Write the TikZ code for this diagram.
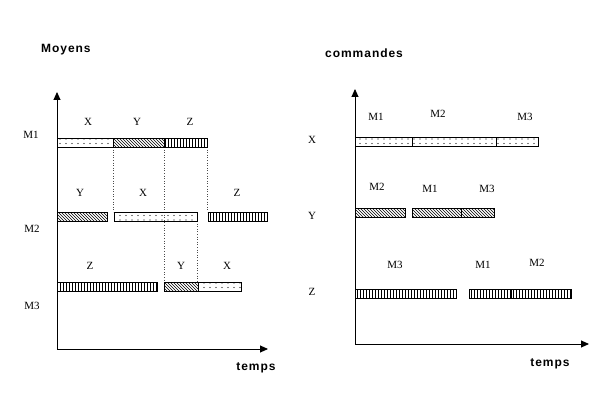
\documentclass[tikz,border=0pt]{standalone}
\usepackage{fontspec}
\setmainfont{Liberation Serif}
\newfontfamily\lbl[LetterSpace=8]{Liberation Sans}
\usetikzlibrary{patterns,arrows.meta}
\pgfdeclarepatternformonly{sparsedots}{\pgfqpoint{-1pt}{-1pt}}{\pgfqpoint{1pt}{1pt}}{\pgfqpoint{6pt}{4.5pt}}{%
  \pgfpathcircle{\pgfqpoint{0pt}{0pt}}{0.6pt}\pgfusepath{fill}}
\tikzset{
  lab/.style={font=\fontsize{11}{13}\selectfont, inner sep=0pt},
  ttl/.style={font=\lbl\bfseries\fontsize{12}{14}\selectfont, inner sep=0pt},
  axis/.style={line width=0.9pt, -{Triangle[length=8pt,width=7pt]}},
  segline/.style={draw=black, line width=0.7pt},
  dots/.style={segline, pattern=sparsedots},
  hatch/.style={segline, pattern=north west lines},
  vert/.style={segline, pattern=vertical lines},
  guide/.style={line width=0.8pt, gray!60!black, dash pattern=on 0.8pt off 1.8pt}
}
\newcommand{\seg}[4]{\path[#4] (#1,#2) rectangle (#3,#2+9);}
\begin{document}
\begin{tikzpicture}[x=1pt,y=-1pt]
\useasboundingbox (0,0) rectangle (596,409);
% ---------- left chart ----------
\node[ttl, anchor=west] (moyens) at (41,50) {Moyens};
\coordinate (lo) at (57,349);
\coordinate (ltop) at (57,92);
\coordinate (lright) at (268,349);
\draw[axis] (lo) -- (ltop);
\draw[axis] (lo) -- (lright);
\node[ttl] (ltemps) at (256,368) {temps};
\node[lab] (m1) at (31,135) {M1};
\node[lab] (m2) at (32,229) {M2};
\node[lab] (m3) at (32,306) {M3};
% guides
\draw[guide] (113,147) -- (113,212);
\draw[guide] (164,147) -- (164,282);
\draw[guide] (207,147) -- (207,212);
\draw[guide] (197,221) -- (197,282);
% M1
\seg{57}{138}{113}{dots}
\seg{113}{138}{164}{hatch}
\seg{164}{138}{207}{vert}
\node[lab] (m1x) at (88,122) {X};
\node[lab] (m1y) at (137,122) {Y};
\node[lab] (m1z) at (190,122) {Z};
% M2
\seg{57}{212}{107}{hatch}
\seg{114}{212}{197}{dots}
\seg{208}{212}{267}{vert}
\node[lab] (m2y) at (80,193) {Y};
\node[lab] (m2x) at (143,193) {X};
\node[lab] (m2z) at (237,193) {Z};
% M3
\seg{57}{282}{157}{vert}
\seg{164}{282}{198}{hatch}
\seg{198}{282}{241}{dots}
\node[lab] (m3z) at (90,266) {Z};
\node[lab] (m3y) at (181,266) {Y};
\node[lab] (m3x) at (227,266) {X};
% ---------- right chart ----------
\node[ttl, anchor=west] (commandes) at (325,53) {commandes};
\coordinate (ro) at (355,344);
\coordinate (rtop) at (355,89);
\coordinate (rright) at (589,344);
\draw[axis] (ro) -- (rtop);
\draw[axis] (ro) -- (rright);
\node[ttl] (rtemps) at (550,364) {temps};
\node[lab] (cx) at (312,140) {X};
\node[lab] (cy) at (312,216) {Y};
\node[lab] (cz) at (312,292) {Z};
% X
\seg{355}{137}{412}{dots}
\seg{412}{137}{496}{dots}
\seg{496}{137}{538}{dots}
\node[lab] (xm1) at (376,117) {M1};
\node[lab] (xm2) at (438,114) {M2};
\node[lab] (xm3) at (525,117) {M3};
% Y
\seg{355}{208}{405}{hatch}
\seg{412}{208}{461}{hatch}
\seg{461}{208}{494}{hatch}
\node[lab] (ym2) at (377,187) {M2};
\node[lab] (ym1) at (430,189) {M1};
\node[lab] (ym3) at (487,189) {M3};
% Z
\seg{355}{289}{456}{vert}
\seg{469}{289}{511}{vert}
\seg{511}{289}{571}{vert}
\node[lab] (zm3) at (395,265) {M3};
\node[lab] (zm1) at (483,265) {M1};
\node[lab] (zm2) at (537,263) {M2};
\end{tikzpicture}
\end{document}
